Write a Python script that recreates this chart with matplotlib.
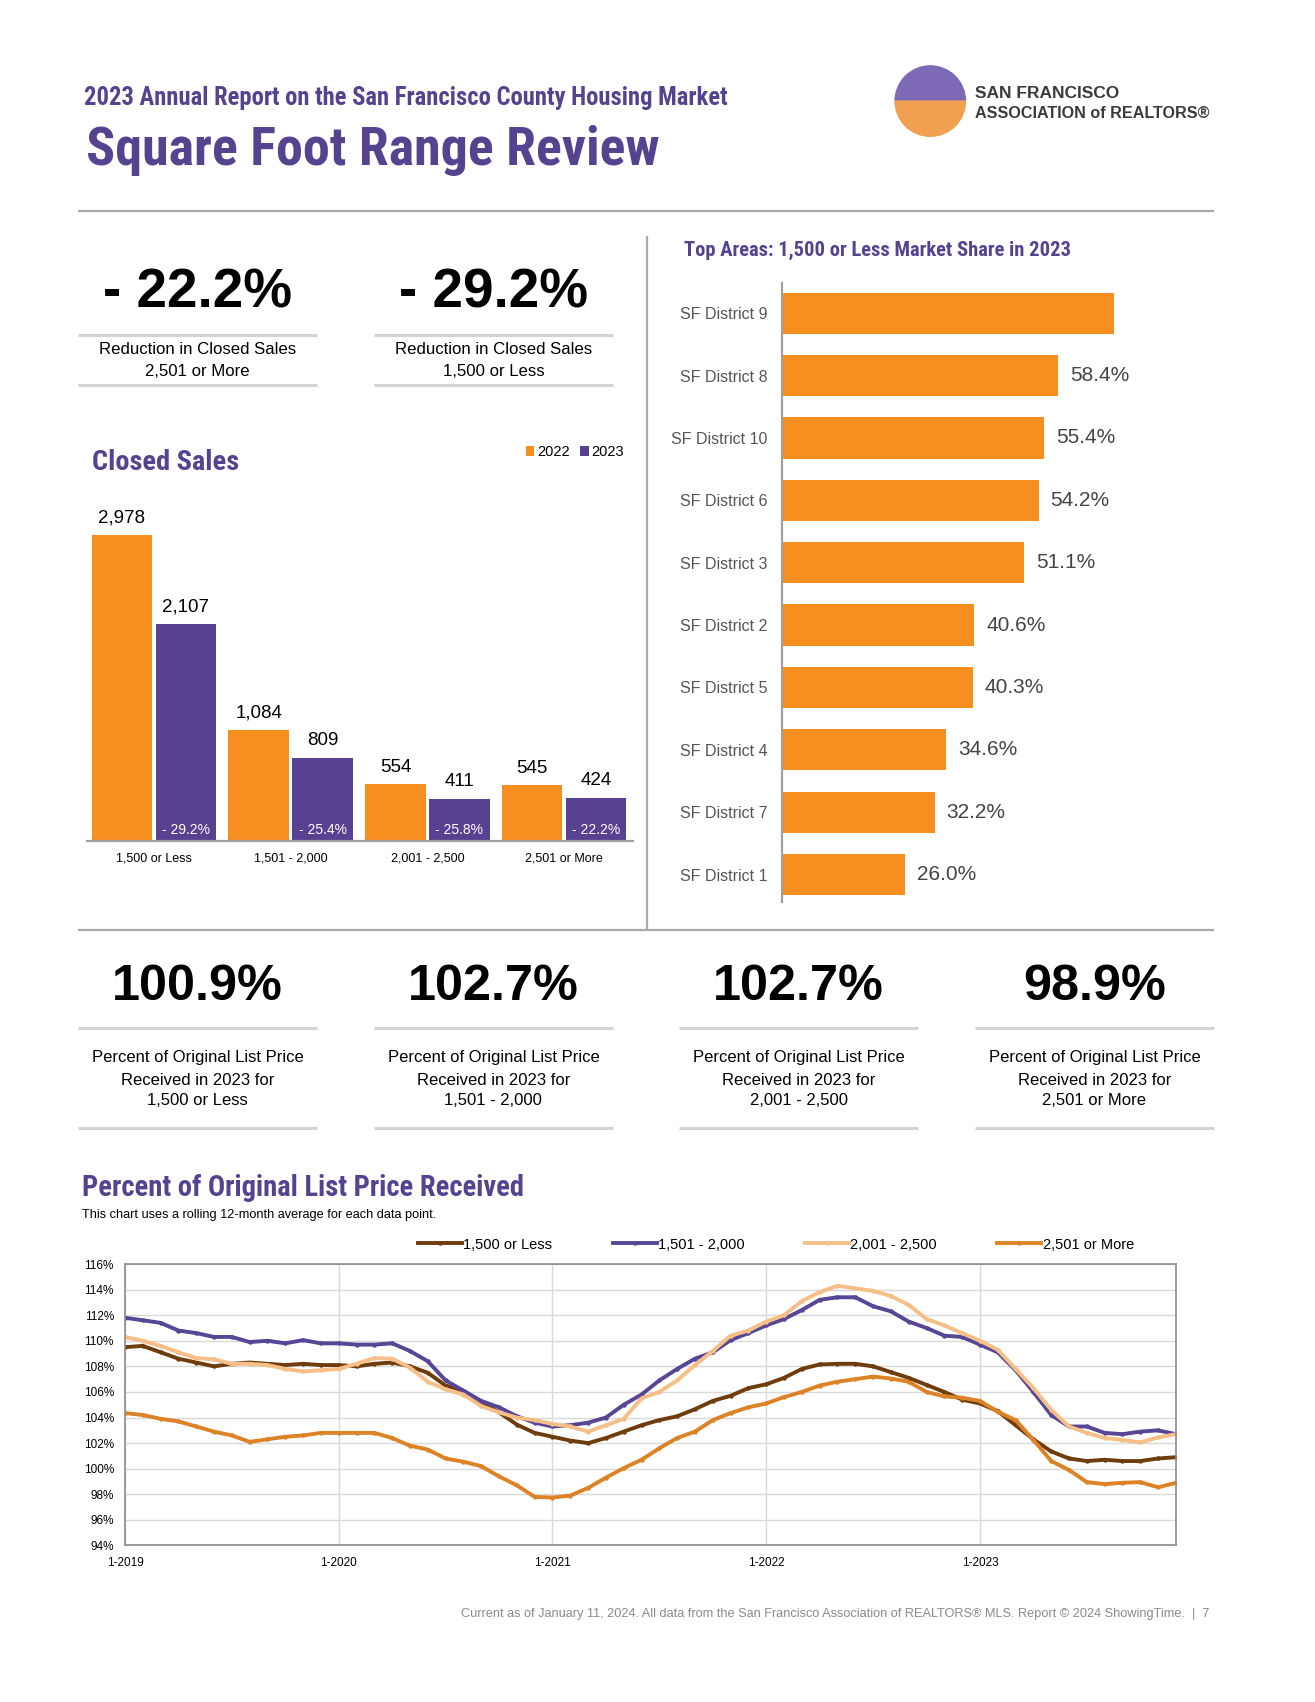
import matplotlib
matplotlib.use('Agg')
import matplotlib.pyplot as plt
from matplotlib import font_manager as fm
from matplotlib.patches import Wedge
import numpy as np

# ---- data ----
size_ranges = ['1,500 or Less', '1,501 - 2,000', '2,001 - 2,500', '2,501 or More']
sales_2022 = [2978, 1084, 554, 545]
sales_2023 = [2107, 809, 411, 424]
sales_change = ['- 29.2%', '- 25.4%', '- 25.8%', '- 22.2%']

districts = ['SF District 9', 'SF District 8', 'SF District 10', 'SF District 6', 'SF District 3',
             'SF District 2', 'SF District 5', 'SF District 4', 'SF District 7', 'SF District 1']
district_share = [70.2, 58.4, 55.4, 54.2, 51.1, 40.6, 40.3, 34.6, 32.2, 26.0]
district_labels = ['', '58.4%', '55.4%', '54.2%', '51.1%', '40.6%', '40.3%', '34.6%', '32.2%', '26.0%']

top_kpis = ['- 22.2%', '- 29.2%']
top_kpi_desc = [['Reduction in Closed Sales', '2,501 or More'],
                ['Reduction in Closed Sales', '1,500 or Less']]
olp_kpis = ['100.9%', '102.7%', '102.7%', '98.9%']

month_ticks = ['1-2019', '1-2020', '1-2021', '1-2022', '1-2023']
# rolling 12-month pct of original list price, 1-2019 .. 12-2023
olp_1500_less = [109.5, 109.6, 109.1, 108.6, 108.3, 108.0, 108.2, 108.3, 108.2, 108.1,
                 108.2, 108.1, 108.1, 108.0, 108.2, 108.3, 108.0, 107.5, 106.5, 106.1,
                 105.2, 104.4, 103.45, 102.8, 102.5, 102.2, 102.0, 102.4, 102.9, 103.4,
                 103.8, 104.1, 104.65, 105.3, 105.7, 106.3, 106.6, 107.1, 107.8, 108.15,
                 108.2, 108.2, 108.0, 107.55, 107.1, 106.55, 106.0, 105.4, 105.1, 104.5,
                 103.4, 102.3, 101.35, 100.8, 100.6, 100.7, 100.6, 100.6, 100.8, 100.9]
olp_1501_2000 = [111.8, 111.6, 111.4, 110.8, 110.6, 110.3, 110.3, 109.9, 110.0, 109.8,
                 110.05, 109.8, 109.8, 109.7, 109.7, 109.8, 109.2, 108.4, 106.9, 106.1,
                 105.3, 104.8, 104.1, 103.6, 103.3, 103.4, 103.6, 104.0, 105.0, 105.8,
                 106.9, 107.8, 108.6, 109.1, 110.05, 110.6, 111.2, 111.7, 112.4, 113.2,
                 113.4, 113.4, 112.7, 112.3, 111.5, 111.0, 110.4, 110.3, 109.7, 109.1,
                 107.7, 106.0, 104.2, 103.3, 103.3, 102.8, 102.7, 102.9, 103.0, 102.7]
olp_2001_2500 = [110.3, 110.0, 109.6, 109.1, 108.65, 108.55, 108.2, 108.2, 108.1, 107.8,
                 107.6, 107.7, 107.8, 108.2, 108.65, 108.6, 107.9, 106.8, 106.2, 105.8,
                 104.9, 104.4, 104.0, 103.8, 103.5, 103.3, 102.9, 103.4, 103.9, 105.5,
                 106.0, 106.9, 108.1, 109.2, 110.4, 110.8, 111.5, 112.0, 113.1, 113.8,
                 114.3, 114.1, 113.9, 113.5, 112.8, 111.7, 111.2, 110.6, 110.0, 109.3,
                 107.8, 106.3, 104.6, 103.3, 102.8, 102.4, 102.25, 102.05, 102.45, 102.7]
olp_2501_more = [104.35, 104.2, 103.9, 103.7, 103.3, 102.9, 102.6, 102.1, 102.3, 102.5,
                 102.6, 102.8, 102.8, 102.8, 102.8, 102.4, 101.8, 101.5, 100.8, 100.55,
                 100.2, 99.4, 98.7, 97.8, 97.75, 97.9, 98.5, 99.3, 100.05, 100.7,
                 101.6, 102.4, 102.9, 103.8, 104.35, 104.8, 105.1, 105.6, 106.0, 106.5,
                 106.8, 107.0, 107.2, 107.05, 106.8, 106.0, 105.65, 105.55, 105.3, 104.45,
                 103.8, 102.25, 100.6, 99.9, 98.95, 98.8, 98.9, 98.95, 98.55, 98.9]

# ---- fonts: a condensed bold face for the purple headings if one is installed ----
plt.rcParams['font.family'] = ['Liberation Sans', 'DejaVu Sans']


def find_condensed_bold():
    wanted = ['liberationsansnarrow-bold', 'robotocondensed-bold', 'dejavusanscondensed-bold',
              'opensans_condensed-bold', 'opensanscondensed-bold', 'notosanscondensed-bold']
    files = [f.fname for f in fm.fontManager.ttflist]
    for w in wanted:
        for fn in files:
            if w in fn.lower().replace(' ', '').replace('[', '').split('/')[-1]:
                return fm.FontProperties(fname=fn)
    for f in fm.fontManager.ttflist:
        if f.stretch in ('condensed', 'semi-condensed', 'extra-condensed') and \
                str(f.weight) in ('bold', '700', '600', 'semibold'):
            return fm.FontProperties(fname=f.fname)
    return fm.FontProperties(family='DejaVu Sans', weight='bold', stretch='condensed')


COND = find_condensed_bold()

HEAD = '#56438f'
ORANGE = '#f68f1f'
PURPLE = '#574190'
RULE = '#d3d3d3'
line_colors = ['#6f3c0b', '#574595', '#f6bf87', '#dc8327']

# page layout is measured on a 1210 x 1566 grid
W, H = 1210.0, 1566.0
SC = 1315 / W


def fx(x):
    return x / W


def fy(y):
    return 1 - y / H


def box(l, t, r, b):
    return [fx(l), fy(b), (r - l) / W, (b - t) / H]


fig = plt.figure(figsize=(13.15, 17.02), dpi=100)
fig.patch.set_facecolor('white')
renderer = fig.canvas.get_renderer()


def txt(x, y, s, width=None, size=10, **kw):
    kw.setdefault('va', 'baseline')
    if 'fontproperties' in kw:
        fp = kw.pop('fontproperties').copy()
        fp.set_size(size)
        t = fig.text(fx(x), fy(y), s, fontproperties=fp, **kw)
    else:
        t = fig.text(fx(x), fy(y), s, fontsize=size, **kw)
    if width:
        w = t.get_window_extent(renderer).width
        t.set_fontsize(size * width * SC / w)
    return t


def rule(x0, x1, y, color=RULE, lw=2.2):
    fig.add_artist(plt.Line2D([fx(x0), fx(x1)], [fy(y), fy(y)], transform=fig.transFigure,
                              color=color, lw=lw, solid_capstyle='butt'))


# header
txt(77, 97, '2023 Annual Report on the San Francisco County Housing Market', width=594, size=18,
    fontproperties=COND, color=HEAD)
txt(79, 152, 'Square Foot Range Review', width=528, size=40, fontproperties=COND, color=HEAD)

# logo
ax_logo = fig.add_axes(box(821, 59, 891, 127))
ax_logo.add_patch(Wedge((0, 0), 1, 0, 180, color='#7d69b6'))
ax_logo.add_patch(Wedge((0, 0), 1, 180, 360, color='#f0a050'))
ax_logo.set_xlim(-1.05, 1.05)
ax_logo.set_ylim(-1.05, 1.05)
ax_logo.set_aspect('equal')
ax_logo.axis('off')
txt(897, 90, 'SAN FRANCISCO', width=133, size=13, weight='bold', color='#3b3b3b')
txt(897, 109, 'ASSOCIATION of REALTORS\u00ae', width=216, size=13, weight='bold', color='#3b3b3b')

# section rules
rule(72, 1117, 194, color='#a9a9a9', lw=1.6)
rule(72, 1117, 856, color='#a9a9a9', lw=1.6)
fig.add_artist(plt.Line2D([fx(595), fx(595)], [fy(218), fy(855)], transform=fig.transFigure,
                          color='#a9a9a9', lw=1.6))

# top KPIs
kpi_size = None
for i, (val, desc) in enumerate(zip(top_kpis, top_kpi_desc)):
    cx = 182 + i * 272
    t = txt(cx, 283, val, width=None if kpi_size else 174, size=kpi_size or 40,
            ha='center', weight='bold', color='black')
    kpi_size = t.get_fontsize()
    rule(cx - 110, cx + 110, 308)
    rule(cx - 110, cx + 110, 354)
    d = txt(cx, 326, desc[0], width=182, size=11.5, ha='center', color='black')
    txt(cx, 346, desc[1], size=d.get_fontsize(), ha='center', color='black')

# closed sales bars
txt(85, 432, 'Closed Sales', width=135, size=22, fontproperties=COND, color=HEAD)
ax_cs = fig.add_axes(box(80, 440, 582, 774))
x = np.arange(len(size_ranges))
bw = 0.444
ax_cs.bar(x - 0.234, sales_2022, bw, color=ORANGE, label='2022')
ax_cs.bar(x + 0.234, sales_2023, bw, color=PURPLE, label='2023')
for xi, v in zip(x - 0.234, sales_2022):
    ax_cs.annotate(f'{v:,}', (xi, v), xytext=(0, 9), textcoords='offset points',
                   ha='center', va='baseline', fontsize=13.5)
for xi, v, c in zip(x + 0.234, sales_2023, sales_change):
    ax_cs.annotate(f'{v:,}', (xi, v), xytext=(0, 9), textcoords='offset points',
                   ha='center', va='baseline', fontsize=13.5)
    ax_cs.annotate(c, (xi, 0), xytext=(0, 5), textcoords='offset points',
                   ha='center', va='baseline', fontsize=10, color='white')
ax_cs.set_xlim(-0.49, 3.5)
ax_cs.set_ylim(0, 3527)
ax_cs.set_xticks(x, size_ranges, fontsize=9)
ax_cs.tick_params(axis='x', length=0, pad=8)
ax_cs.set_yticks([])
for s in ['top', 'right', 'left']:
    ax_cs.spines[s].set_visible(False)
ax_cs.spines['bottom'].set_color('#a0a0a0')
ax_cs.spines['bottom'].set_linewidth(1.6)
ax_cs.legend(loc='center right', bbox_to_anchor=(0.985, 1.072), ncol=2, frameon=False,
             fontsize=10.5, handlelength=0.6, handleheight=0.6, handletextpad=0.2,
             columnspacing=0.7, borderaxespad=0, borderpad=0)

# district share bars
txt(629, 235, 'Top Areas: 1,500 or Less Market Share in 2023', width=355, size=15,
    fontproperties=COND, color=HEAD)
ax_d = fig.add_axes(box(720, 260, 1117, 830))
ypos = np.arange(len(districts))[::-1]
ax_d.barh(ypos, district_share, 0.66, color=ORANGE)
for yp, v, lab in zip(ypos, district_share, district_labels):
    if lab:
        ax_d.annotate(lab, (v, yp), xytext=(8.5, 0), textcoords='offset points',
                      ha='left', va='center', fontsize=15, color='#444444')
ax_d.set_xlim(0, 91.3)
ax_d.set_ylim(-0.44, 9.49)
ax_d.set_yticks(ypos, districts, fontsize=11.5, color='#555555')
ax_d.tick_params(axis='y', length=0, pad=11)
ax_d.set_xticks([])
for s in ['top', 'right', 'bottom']:
    ax_d.spines[s].set_visible(False)
ax_d.spines['left'].set_color('#a0a0a0')
ax_d.spines['left'].set_linewidth(1.6)

# pct of original list price KPIs
big_size = None
for i, val in enumerate(olp_kpis):
    cx = [182, 454, 735, 1007][i]
    t = txt(cx, 920, val, width=None if big_size else 157, size=big_size or 40,
            ha='center', weight='bold', color='black')
    big_size = t.get_fontsize()
    rule(cx - 110, cx + 110, 946)
    rule(cx - 110, cx + 110, 1038)
    d = txt(cx, 977, 'Percent of Original List Price', width=195, size=11.5, ha='center')
    txt(cx, 998, 'Received in 2023 for', size=d.get_fontsize(), ha='center')
    txt(cx, 1017, size_ranges[i], size=d.get_fontsize(), ha='center')

# line chart
txt(75, 1100, 'Percent of Original List Price Received', width=406, size=22,
    fontproperties=COND, color=HEAD)
txt(75, 1121, 'This chart uses a rolling 12-month average for each data point.', width=325, size=8.5)

ax = fig.add_axes(box(115, 1163, 1082, 1422))
months = np.arange(len(olp_1500_less))
for series, lab, col in zip([olp_1500_less, olp_1501_2000, olp_2001_2500, olp_2501_more],
                            size_ranges, line_colors):
    ax.plot(months, series, color=col, lw=2.8, marker='o', ms=3.2, mew=0, label=lab)
ax.set_xlim(0, 59)
ax.set_ylim(94, 116)
ax.set_yticks(np.arange(94, 117, 2), [f'{v}%' for v in range(94, 117, 2)], fontsize=8.5)
ax.set_xticks(np.arange(0, 60, 12), month_ticks, fontsize=8.5)
ax.tick_params(length=0, pad=8)
ax.grid(True, color='#d9d9d9', lw=1)
ax.set_axisbelow(True)
for s in ax.spines.values():
    s.set_color('#8c8c8c')
    s.set_linewidth(1.2)
ax.legend(loc='center', bbox_to_anchor=(0.279, 1.069, 0.681, 0), mode='expand', ncol=4,
          frameon=False, fontsize=10.5, handlelength=3.0, handletextpad=0.1,
          borderaxespad=0, borderpad=0)

# footer
txt(1113, 1488, 'Current as of January 11, 2024. All data from the San Francisco Association of '
    'REALTORS\u00ae MLS. Report \u00a9 2024 ShowingTime.  |  7', width=688, size=8.5,
    ha='right', color='#8a8a8a')

fig.savefig('out.png', dpi=100)
